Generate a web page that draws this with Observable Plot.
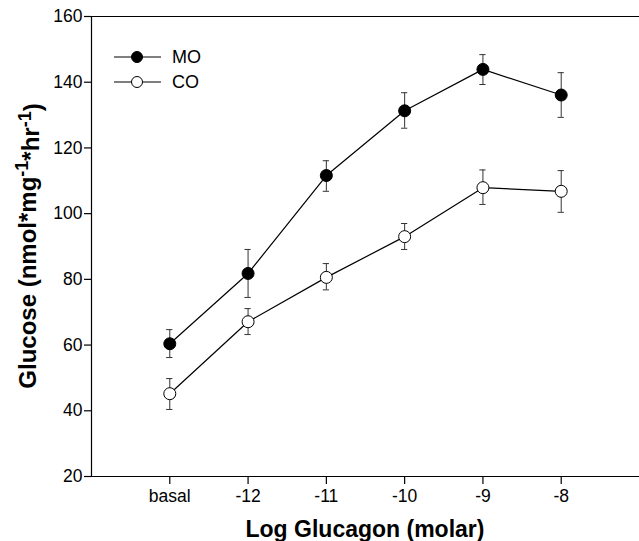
<!DOCTYPE html>
<html>
<head>
<meta charset="utf-8">
<script src="https://cdn.jsdelivr.net/npm/d3@7"></script>
<script src="https://cdn.jsdelivr.net/npm/@observablehq/plot@0.6"></script>
<style>
  html, body { margin: 0; padding: 0; background: #fff; }
  svg { display: block; }
</style>
</head>
<body>
<div id="chart"></div>
<script>
// ---- data ----
const doses = [-13, -12, -11, -10, -9, -8];           // -13 stands for "basal"
const doseLabels = ["basal", "-12", "-11", "-10", "-9", "-8"];
const moMean = [60.4, 81.8, 111.6, 131.3, 143.9, 136.1];
const moLow  = [56.2, 74.5, 106.8, 126.0, 139.3, 129.3];
const moHigh = [64.7, 89.1, 116.1, 136.8, 148.4, 142.9];
const coMean = [45.2, 67.1, 80.6, 93.0, 107.9, 106.8];
const coLow  = [40.4, 63.2, 76.8, 89.1, 102.8, 100.4];
const coHigh = [49.8, 71.1, 84.8, 97.0, 113.3, 113.1];
const yTicks = [20, 40, 60, 80, 100, 120, 140, 160];

const FONT = "'Liberation Sans', Arial, Helvetica, sans-serif";

const build = (name, mean, lo, hi) => doses.map((d, i) => ({series: name, x: d, y: mean[i], lo: lo[i], hi: hi[i]}));
const mo = build("MO", moMean, moLow, moHigh);
const co = build("CO", coMean, coLow, coHigh);
const all = [...mo, ...co];
const capHalf = 0.04; // half-width of error-bar caps, in x units

const chart = Plot.plot({
  width: 639,
  height: 541,
  marginLeft: 91,
  marginRight: 0,
  marginTop: 16,
  marginBottom: 65,
  style: {fontFamily: FONT, color: "#000", background: "#fff", overflow: "visible"},
  x: {domain: [-14, -7]},
  y: {domain: [20, 160]},
  marks: [
    Plot.ruleY([160], {stroke: "#000", strokeWidth: 1.2}),
    Plot.ruleY([20], {stroke: "#000", strokeWidth: 1.2}),
    Plot.ruleX([-14], {stroke: "#000", strokeWidth: 1.2}),
    Plot.axisX({ticks: doses, tickFormat: d => doseLabels[doses.indexOf(d)], tickSize: 8, tickPadding: 5, fontSize: 17.5, label: null, strokeWidth: 1.2}),
    Plot.axisY({ticks: yTicks, tickSize: 7, tickPadding: 2, fontSize: 17.5, label: null, strokeWidth: 1.2}),
    // error bars
    Plot.ruleX(all, {x: "x", y1: "lo", y2: "hi", stroke: "#333", strokeWidth: 1}),
    Plot.ruleY(all, {y: "lo", x1: d => d.x - capHalf, x2: d => d.x + capHalf, stroke: "#333", strokeWidth: 1}),
    Plot.ruleY(all, {y: "hi", x1: d => d.x - capHalf, x2: d => d.x + capHalf, stroke: "#333", strokeWidth: 1}),
    // lines
    Plot.line(mo, {x: "x", y: "y", stroke: "#000", strokeWidth: 1.2}),
    Plot.line(co, {x: "x", y: "y", stroke: "#000", strokeWidth: 1.2}),
    // markers
    Plot.dot(mo, {x: "x", y: "y", r: 6, fill: "#000", stroke: "#000", strokeWidth: 1}),
    Plot.dot(co, {x: "x", y: "y", r: 6, fill: "#fff", stroke: "#000", strokeWidth: 1})
  ]
});

const svg = d3.select(chart);

// legend
const legend = [{name: "MO", fill: "#000", y: 57}, {name: "CO", fill: "#fff", y: 82}];
const lg = svg.append("g").attr("text-anchor", "start");
legend.forEach(l => {
  lg.append("line").attr("x1", 114).attr("x2", 161).attr("y1", l.y).attr("y2", l.y).attr("stroke", "#000").attr("stroke-width", 1.2);
  lg.append("circle").attr("cx", 137).attr("cy", l.y).attr("r", 5.5).attr("fill", l.fill).attr("stroke", "#000");
  lg.append("text").attr("x", 172).attr("y", l.y).attr("dy", "0.36em").attr("text-anchor", "start")
    .attr("font-size", 18).attr("font-family", FONT).attr("fill", "#000").text(l.name);
});

// x axis title
svg.append("text").attr("x", 365).attr("y", 537).attr("text-anchor", "middle")
  .attr("font-size", 23).attr("font-weight", "bold").attr("font-family", FONT).attr("fill", "#000")
  .text("Log Glucagon (molar)");

// y axis title with superscripts
const yt = svg.append("text")
  .attr("transform", "translate(36,246) rotate(-90)")
  .attr("text-anchor", "middle")
  .attr("font-size", 24).attr("font-weight", "bold").attr("font-family", FONT).attr("fill", "#000");
yt.append("tspan").text("Glucose (nmol*mg");
yt.append("tspan").attr("dy", "-0.45em").attr("font-size", 18).text("-1");
yt.append("tspan").attr("dy", "0.45em").text("*hr");
yt.append("tspan").attr("dy", "-0.45em").attr("font-size", 18).text("-1");
yt.append("tspan").attr("dy", "0.45em").text(")");

document.getElementById("chart").appendChild(chart);
</script>
</body>
</html>
